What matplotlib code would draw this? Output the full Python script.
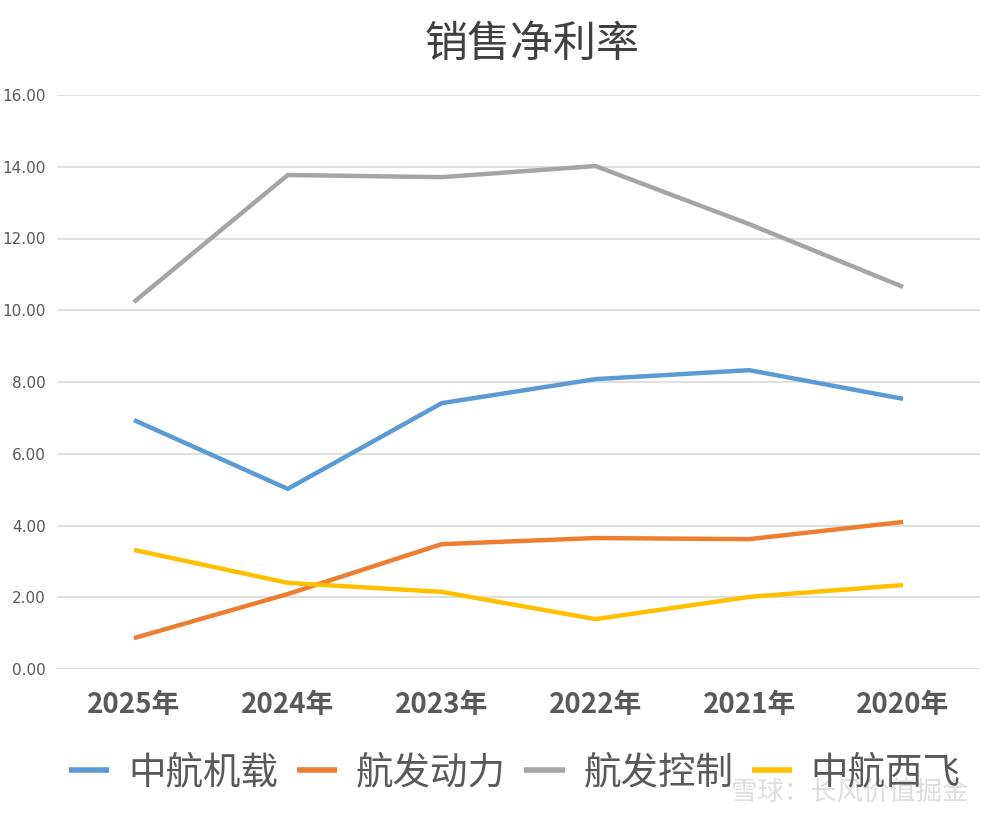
import matplotlib
matplotlib.use("Agg")
import matplotlib.pyplot as plt
import numpy as np

plt.rcParams['font.family'] = ['Noto Sans CJK SC', 'DejaVu Sans']

categories = ["2025年", "2024年", "2023年", "2022年", "2021年", "2020年"]
series_names = ["中航机载", "航发动力", "航发控制", "中航西飞"]
zhjz = [6.94, 5.02, 7.41, 8.08, 8.33, 7.53]
hfdl = [0.86, 2.09, 3.48, 3.65, 3.62, 4.10]
hfkz = [10.23, 13.77, 13.71, 14.02, 12.40, 10.65]
zhxf = [3.32, 2.40, 2.15, 1.39, 2.01, 2.34]
yticks = [0, 2, 4, 6, 8, 10, 12, 14, 16]
colors = ["#5B9BD5", "#ED7D31", "#A5A5A5", "#FFC000"]

fig = plt.figure(figsize=(9.96, 8.17), dpi=100)
ax = fig.add_axes([57/996, 1-669/817, (980-57)/996, (669-95)/817])

x = np.arange(len(categories))
for vals, name, c in zip([zhjz, hfdl, hfkz, zhxf], series_names, colors):
    ax.plot(x, vals, color=c, lw=3.2, label=name, solid_capstyle='butt', solid_joinstyle='round')

ax.set_xlim(-0.5, len(categories) - 0.5)
ax.set_ylim(0, 16)
ax.set_yticks(yticks)
ax.set_yticklabels([f"{v:.2f}" for v in yticks], fontsize=11, color="#595959",
                   family=['DejaVu Sans'])
ax.set_xticks(x)
ax.set_xticklabels(categories, fontsize=20, fontweight='bold', color="#595959")
ax.tick_params(axis='both', length=0)
ax.tick_params(axis='x', pad=16)
ax.tick_params(axis='y', pad=8)
ax.grid(axis='y', color="#D9D9D9", lw=1.2)
ax.set_axisbelow(True)
for s in ax.spines.values():
    s.set_visible(False)

fig.text(532/996, 1-45/817, "销售净利率", fontsize=31, color="#404040",
         ha='center', va='center')

leg = fig.legend(loc='center', bbox_to_anchor=(515/996, 1-773/817), ncol=4,
                 frameon=False, fontsize=27, handlelength=1.07, handletextpad=0.5,
                 columnspacing=0.5, labelcolor="#595959")
for line in leg.get_lines():
    line.set_linewidth(4)

fig.text(968/996, 1-792/817, "雪球：长风价值掘金", fontsize=19, color="#c8c8c8",
         ha='right', va='center', alpha=0.6)

fig.savefig("out.png", dpi=100)
